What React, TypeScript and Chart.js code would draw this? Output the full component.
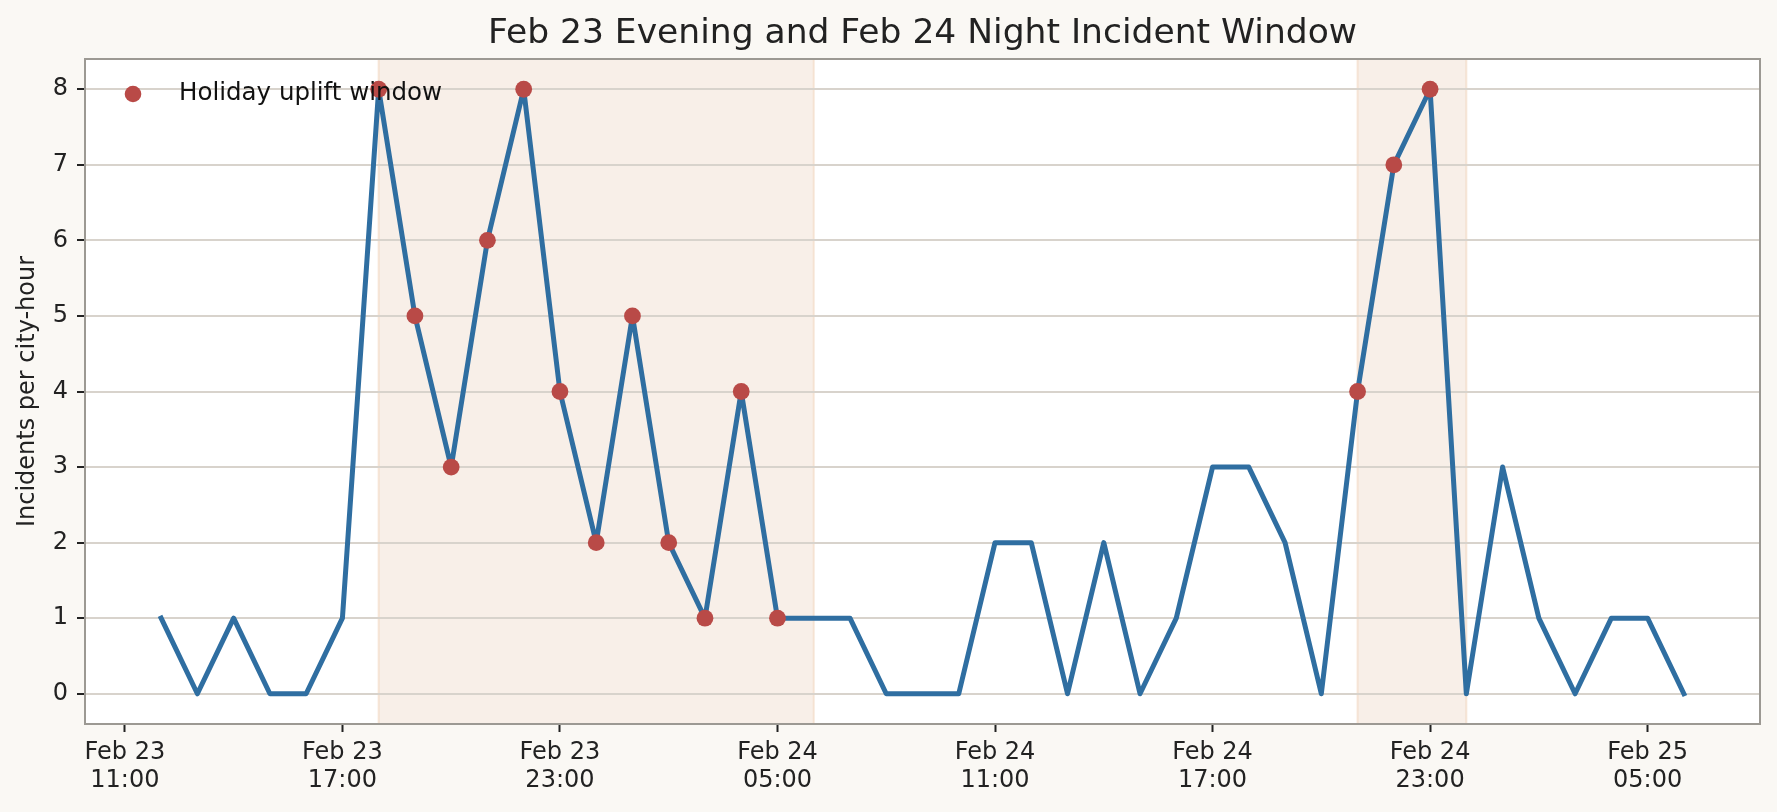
import React, { useEffect, useRef } from "react";
import { Chart, registerables, ChartConfiguration, Plugin } from "chart.js";

Chart.register(...registerables);

// hourly buckets, Feb 23 12:00 .. Feb 25 06:00
const hourLabels = [
  "Feb 23 12:00", "Feb 23 13:00", "Feb 23 14:00", "Feb 23 15:00", "Feb 23 16:00", "Feb 23 17:00",
  "Feb 23 18:00", "Feb 23 19:00", "Feb 23 20:00", "Feb 23 21:00", "Feb 23 22:00", "Feb 23 23:00",
  "Feb 24 00:00", "Feb 24 01:00", "Feb 24 02:00", "Feb 24 03:00", "Feb 24 04:00", "Feb 24 05:00",
  "Feb 24 06:00", "Feb 24 07:00", "Feb 24 08:00", "Feb 24 09:00", "Feb 24 10:00", "Feb 24 11:00",
  "Feb 24 12:00", "Feb 24 13:00", "Feb 24 14:00", "Feb 24 15:00", "Feb 24 16:00", "Feb 24 17:00",
  "Feb 24 18:00", "Feb 24 19:00", "Feb 24 20:00", "Feb 24 21:00", "Feb 24 22:00", "Feb 24 23:00",
  "Feb 25 00:00", "Feb 25 01:00", "Feb 25 02:00", "Feb 25 03:00", "Feb 25 04:00", "Feb 25 05:00",
  "Feb 25 06:00",
];

const incidents = [
  1, 0, 1, 0, 0, 1,
  8, 5, 3, 6, 8, 4,
  2, 5, 2, 1, 4, 1,
  1, 1, 0, 0, 0, 2,
  2, 0, 2, 0, 1, 3,
  3, 2, 0, 4, 7, 8,
  0, 3, 1, 0, 1, 1,
  0,
];

// first and last hour of each holiday uplift window
const upliftWindows = [
  ["Feb 23 18:00", "Feb 24 05:00"],
  ["Feb 24 21:00", "Feb 24 23:00"],
];

// tick positions as hour offsets from the first bucket
const tickHours = [-1, 5, 11, 17, 23, 29, 35, 41];
const tickLabels = [
  ["Feb 23", "11:00"], ["Feb 23", "17:00"], ["Feb 23", "23:00"], ["Feb 24", "05:00"],
  ["Feb 24", "11:00"], ["Feb 24", "17:00"], ["Feb 24", "23:00"], ["Feb 25", "05:00"],
];
const yTicks = [0, 1, 2, 3, 4, 5, 6, 7, 8];

const TITLE = "Feb 23 Evening and Feb 24 Night Incident Window";
const FONT = "'DejaVu Sans', 'Noto Sans', sans-serif";
const LINE = "#2f6ea1";
const DOT = "#b94a47";

const windowIdx = upliftWindows.map(([a, b]) => [hourLabels.indexOf(a), hourLabels.indexOf(b)]);
const inWindow = (i: number) => windowIdx.some(([a, b]) => i >= a && i <= b);

const xPad = (hourLabels.length - 1) * 0.05;
const yMin = Math.min(...incidents);
const yMax = Math.max(...incidents);
const yPad = (yMax - yMin) * 0.05;

const decorPlugin: Plugin = {
  id: "decor",
  beforeDraw(chart) {
    const { ctx, chartArea: a, scales } = chart;
    ctx.save();
    ctx.fillStyle = "#faf8f4";
    ctx.fillRect(0, 0, chart.width, chart.height);
    ctx.fillStyle = "#ffffff";
    ctx.fillRect(a.left, a.top, a.right - a.left, a.bottom - a.top);
    windowIdx.forEach(([s, e]) => {
      const x0 = scales.x.getPixelForValue(s);
      const x1 = scales.x.getPixelForValue(e + 1);
      ctx.fillStyle = "#f8efe8";
      ctx.fillRect(x0, a.top, x1 - x0, a.bottom - a.top);
      ctx.strokeStyle = "rgba(240, 212, 188, 0.55)";
      ctx.lineWidth = 2;
      ctx.strokeRect(x0, a.top, x1 - x0, a.bottom - a.top);
    });
    ctx.restore();
  },
  afterDraw(chart) {
    const { ctx, chartArea: a } = chart;
    ctx.save();
    ctx.strokeStyle = "#9c9993";
    ctx.lineWidth = 2;
    ctx.strokeRect(a.left, a.top, a.right - a.left, a.bottom - a.top);
    // title, centred over the plot area
    ctx.fillStyle = "#222222";
    ctx.font = `34.5px ${FONT}`;
    ctx.textAlign = "center";
    ctx.textBaseline = "middle";
    ctx.fillText(TITLE, (a.left + a.right) / 2, 34);
    // legend
    ctx.fillStyle = DOT;
    ctx.beginPath();
    ctx.arc(133, 94, 8.3, 0, Math.PI * 2);
    ctx.fill();
    ctx.fillStyle = "#111111";
    ctx.font = `24.5px ${FONT}`;
    ctx.textAlign = "left";
    ctx.fillText("Holiday uplift window", 179, 94);
    ctx.restore();
  },
};

const App: React.FC = () => {
  const chartRef = useRef<HTMLCanvasElement>(null);
  const chartInstance = useRef<Chart | null>(null);

  useEffect(() => {
    document.body.style.margin = "0";
    document.body.style.background = "#faf8f4";
    if (!chartRef.current) return;
    if (chartInstance.current) chartInstance.current.destroy();

    const linePoints = incidents.map((v, i) => ({ x: i, y: v }));
    const upliftPoints = incidents
      .map((v, i) => ({ x: i, y: v }))
      .filter((p) => inWindow(p.x));

    const config: ChartConfiguration = {
      type: "line",
      data: {
        datasets: [
          {
            label: "Holiday uplift window",
            data: upliftPoints,
            showLine: false,
            pointRadius: 8.4,
            pointHoverRadius: 8.4,
            pointBackgroundColor: DOT,
            pointBorderWidth: 0,
            backgroundColor: DOT,
          },
          {
            label: "Incidents",
            data: linePoints,
            borderColor: LINE,
            borderWidth: 5,
            borderJoinStyle: "round",
            borderCapStyle: "square",
            pointRadius: 0,
            tension: 0,
            fill: false,
          },
        ],
      },
      options: {
        responsive: false,
        animation: false,
        layout: { padding: { left: 0, right: 17, top: 59, bottom: 0 } },
        plugins: {
          legend: { display: false },
          tooltip: { enabled: false },
          title: { display: false },
        },
        scales: {
          x: {
            type: "linear",
            bounds: "data",
            min: -xPad,
            max: hourLabels.length - 1 + xPad,
            afterBuildTicks: (scale) => {
              scale.ticks = tickHours.map((v) => ({ value: v }));
            },
            afterFit: (scale) => {
              scale.height = 88;
            },
            ticks: {
              autoSkip: false,
              maxRotation: 0,
              padding: 7,
              color: "#222222",
              font: { family: FONT, size: 24, lineHeight: 28 / 24 },
              callback: (_v, i) => tickLabels[i],
            },
            grid: {
              display: true,
              drawOnChartArea: false,
              drawTicks: true,
              tickLength: 8,
              tickColor: "#222222",
              tickWidth: 2,
            },
            border: { display: false },
          },
          y: {
            type: "linear",
            bounds: "data",
            min: yMin - yPad,
            max: yMax + yPad,
            afterBuildTicks: (scale) => {
              scale.ticks = yTicks.map((v) => ({ value: v }));
            },
            afterFit: (scale) => {
              scale.width = 85;
            },
            ticks: {
              padding: 9,
              color: "#222222",
              font: { family: FONT, size: 24 },
              callback: (v) => String(v),
            },
            grid: {
              color: "#d8d3cc",
              lineWidth: 2,
              drawTicks: true,
              tickLength: 8,
              tickColor: "#222222",
              tickWidth: 2,
            },
            border: { display: false },
            title: {
              display: true,
              text: "Incidents per city-hour",
              color: "#222222",
              font: { family: FONT, size: 24 },
              padding: { top: 13, bottom: 0 },
            },
          },
        },
      },
      plugins: [decorPlugin],
    };

    chartInstance.current = new Chart(chartRef.current, config);

    return () => {
      if (chartInstance.current) {
        chartInstance.current.destroy();
        chartInstance.current = null;
      }
    };
  }, []);

  return (
    <div style={{ width: 1777, height: 812 }}>
      <canvas ref={chartRef} width={1777} height={812} style={{ display: "block" }} />
    </div>
  );
};

export default App;
